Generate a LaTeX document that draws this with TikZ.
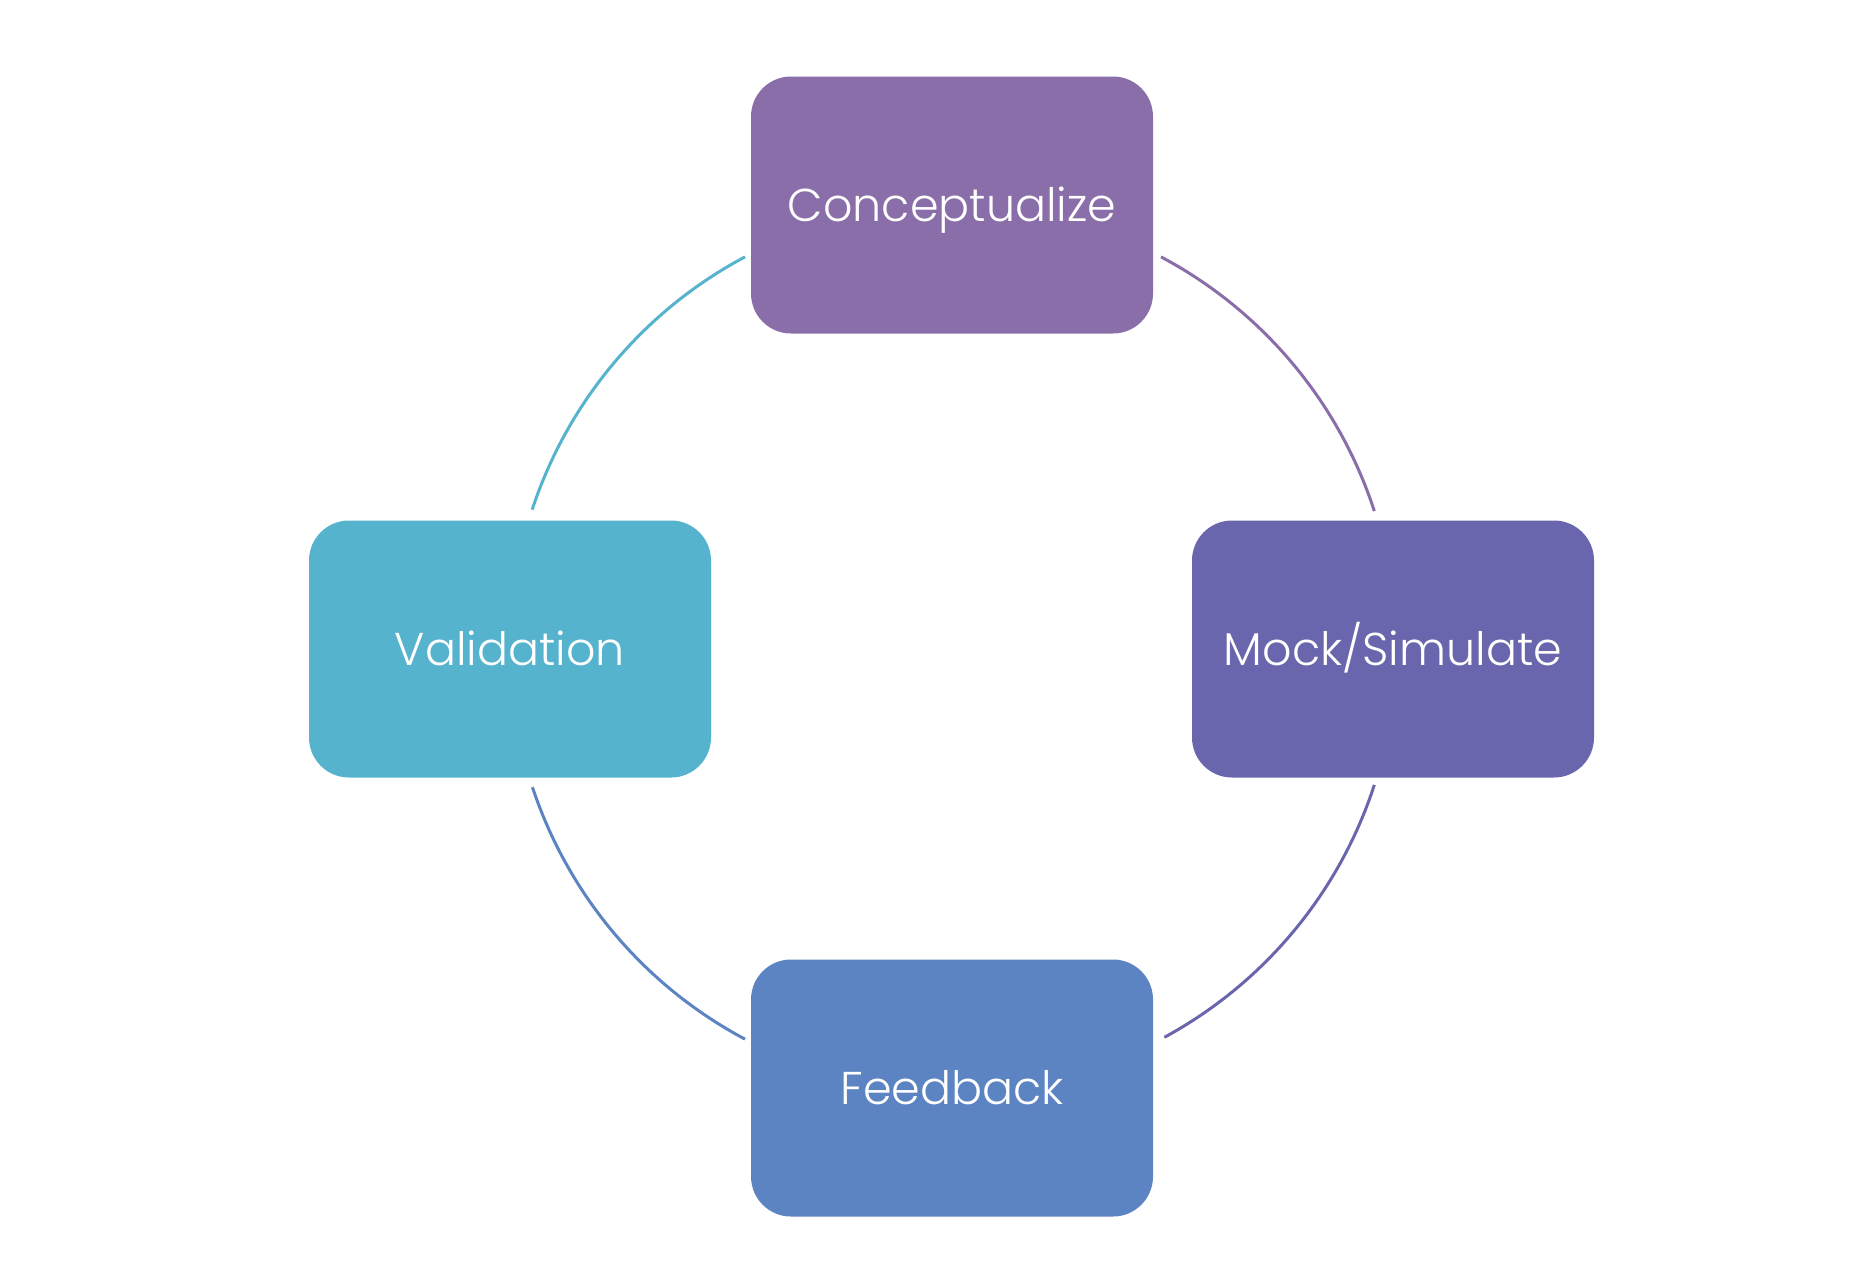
\documentclass[tikz,border=0pt]{standalone}
\usepackage{fontspec}
\setmainfont{Poppins}[UprightFont=* Light]
\definecolor{cConc}{HTML}{8A6EA9}
\definecolor{cMock}{HTML}{6A66AD}
\definecolor{cVal}{HTML}{56B3CD}
\definecolor{cFeed}{HTML}{5C83C2}
\tikzset{
  stagebox/.style={rectangle, rounded corners=40pt, minimum width=402pt, minimum height=257pt, text=white, font=\fontsize{46}{54}\selectfont, inner sep=0pt, text height=32pt, text depth=0pt},
  ring/.style={line width=3pt}
}
\begin{document}
\begin{tikzpicture}[x=1pt,y=1pt]
\useasboundingbox (0,0) rectangle (1876,-1270);
\coordinate (c) at (953,-648);
\node[stagebox, fill=cConc] (conc) at (952,-205) {Conceptualize};
\node[stagebox, fill=cMock] (mock) at (1393,-649) {Mock/Simulate};
\node[stagebox, fill=cVal] (val) at (510,-649) {Validation};
\node[stagebox, fill=cFeed] (feed) at (952,-1088) {Feedback};
\draw[ring, cConc] (c) ++(62:443) arc[start angle=62, end angle=18, radius=443];
\draw[ring, cMock] (c) ++(-18:443) arc[start angle=-18, end angle=-61.5, radius=443];
\draw[ring, cFeed] (c) ++(-118:443) arc[start angle=-118, end angle=-161.7, radius=443];
\draw[ring, cVal] (c) ++(161.8:443) arc[start angle=161.8, end angle=118, radius=443];
\end{tikzpicture}
\end{document}
